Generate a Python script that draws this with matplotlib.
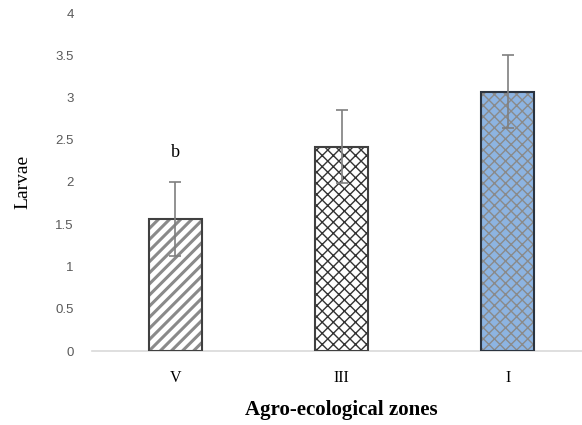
import matplotlib
matplotlib.use("Agg")
import matplotlib.pyplot as plt

categories = ["V", "III", "I"]
values = [1.56, 2.42, 3.07]
errors = [0.44, 0.43, 0.435]
letters = ["b", "", ""]
y_ticks = [0, 0.5, 1, 1.5, 2, 2.5, 3, 3.5, 4]
y_tick_labels = ["0", "0.5", "1", "1.5", "2", "2.5", "3", "3.5", "4"]

fig = plt.figure(figsize=(5.82, 4.25), dpi=100)
ax = fig.add_axes([92/582, 1 - 351/425, (591-92)/582, (351-13)/425])

x = list(range(len(categories)))
faces = ["white", "white", "#8DB4E2"]
hatches = ["///", "xxx", "xxx"]
hcolors = ["#8a8a8a", "#333333", "#8a8a8a"]
hlw = [2.2, 1.0, 1.0]
edges = ["#404040", "#404040", "#2b3440"]
for i in x:
    plt.rcParams['hatch.linewidth'] = hlw[i]
    bars = ax.bar(x[i], values[i], width=0.32, color=faces[i], edgecolor=hcolors[i],
                  hatch=hatches[i], linewidth=0, zorder=2)
    for b in bars:
        if hasattr(b, "set_hatch_linewidth"):
            b.set_hatch_linewidth(hlw[i])
    ax.bar(x[i], values[i], width=0.32, fill=False, edgecolor=edges[i],
           linewidth=1.5, zorder=3)
ax.errorbar(x, values, yerr=errors, fmt="none", ecolor="#7f7f7f",
            elinewidth=1.2, capsize=4, capthick=1.2, zorder=4)

for i in x:
    if letters[i]:
        ax.text(x[i], values[i] + errors[i] + 0.35, letters[i], ha="center",
                va="center", family="Liberation Serif", fontsize=13)

ax.set_xlim(-0.5, 2.5)
ax.set_ylim(0, 4)
ax.set_yticks(y_ticks)
ax.set_yticklabels(y_tick_labels, family="Liberation Sans", fontsize=9.5, color="#595959")
ax.set_xticks(x)
ax.set_xticklabels(categories, family="Liberation Serif", fontsize=11.5)
ax.tick_params(axis="y", length=0, pad=13)
ax.tick_params(axis="x", length=0, pad=14)
for s in ["top", "right", "left"]:
    ax.spines[s].set_visible(False)
ax.spines["bottom"].set_color("#d9d9d9")
ax.spines["bottom"].set_linewidth(1.2)

ax.set_ylabel("Larvae", family="Liberation Serif", fontsize=14, labelpad=17)
ax.set_xlabel("Agro-ecological zones", family="Liberation Serif", fontsize=15,
              fontweight="bold", labelpad=10)

fig.savefig("out.png", dpi=100)
